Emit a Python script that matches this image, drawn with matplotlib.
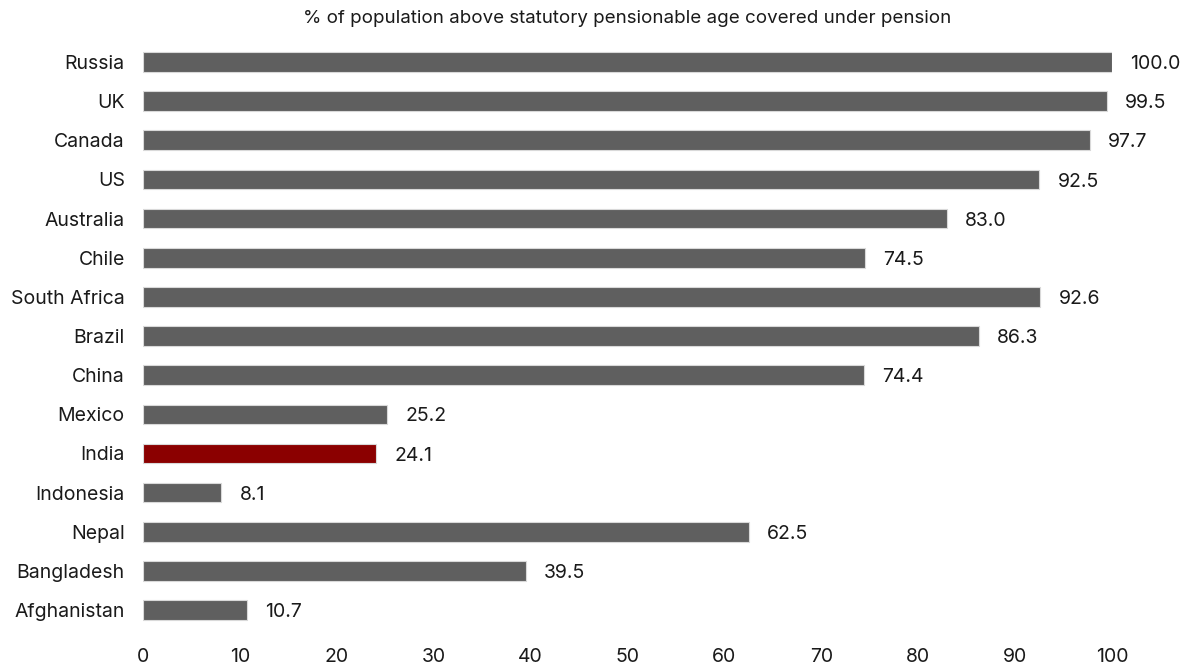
import matplotlib.pyplot as plt

countries = ['Russia', 'UK', 'Canada', 'US', 'Australia', 'Chile', 'South Africa',
             'Brazil', 'China', 'Mexico', 'India', 'Indonesia', 'Nepal',
             'Bangladesh', 'Afghanistan']
coverage = [100.0, 99.5, 97.7, 92.5, 83.0, 74.5, 92.6, 86.3, 74.4, 25.2, 24.1,
            8.1, 62.5, 39.5, 10.7]
highlight = 'India'
x_ticks = [0, 10, 20, 30, 40, 50, 60, 70, 80, 90, 100]

plt.rcParams['font.family'] = ['Inter', 'DejaVu Sans']

fig = plt.figure(figsize=(11.91, 6.68), dpi=100)
ax = fig.add_axes([0.12, 0.0575, 0.8137, 0.879])

colors = ['#8b0000' if c == highlight else '#5f5f5f' for c in countries]
pos = list(range(len(countries)))
bars = ax.barh(pos, coverage, height=0.5, color=colors, edgecolor='#d9d9d9',
               linewidth=0.8)

for b, v in zip(bars, coverage):
    ax.annotate(f'{v:.1f}', (b.get_width(), b.get_y() + b.get_height() / 2),
                xytext=(13, -1.5), textcoords='offset points',
                ha='left', va='center', fontsize=14, color='#1a1a1a')

ax.set_ylim(len(countries) - 0.5, -0.5)
ax.set_xlim(0, 100)
ax.set_yticks(pos)
ax.set_yticklabels(countries)
ax.set_xticks(x_ticks)
ax.set_xticklabels([str(t) for t in x_ticks])
ax.tick_params(axis='y', length=0, pad=13, labelsize=14, labelcolor='#1a1a1a')
ax.tick_params(axis='x', length=0, pad=13, labelsize=14, labelcolor='#1a1a1a')
for s in ax.spines.values():
    s.set_visible(False)

ax.set_title('% of population above statutory pensionable age covered under pension',
             fontsize=13.5, color='#1a1a1a', pad=14)

fig.savefig('out.png', dpi=100)
